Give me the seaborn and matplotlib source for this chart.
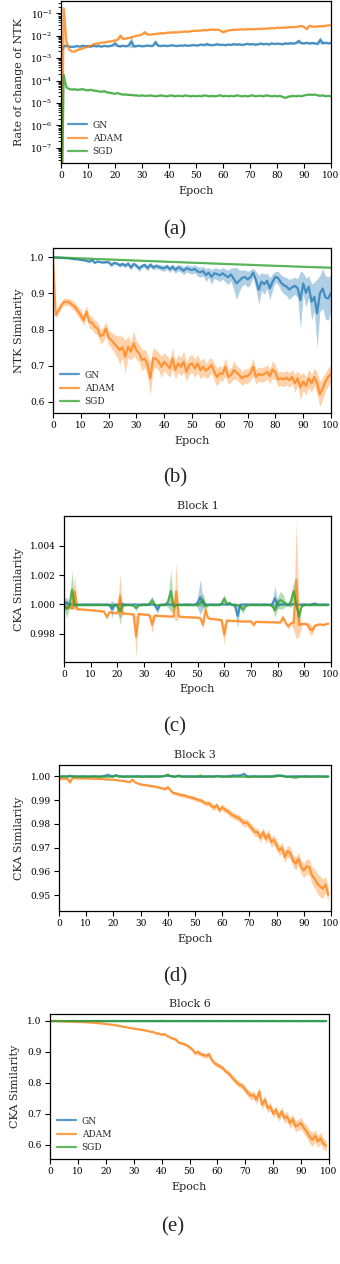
import numpy as np
import pandas as pd
import seaborn as sns
import matplotlib
matplotlib.use("Agg")
import matplotlib.pyplot as plt
from matplotlib.lines import Line2D
from matplotlib.ticker import LogLocator, NullFormatter, FixedLocator, FormatStrFormatter

# ---------------- data ----------------
OPTIMIZERS = ["GN", "ADAM", "SGD"]
COLORS = {"GN": "#1f77b4", "ADAM": "#ff7f0e", "SGD": "#2ca02c"}
EPOCHS_AB = list(range(101))
EPOCHS_CDE = list(range(100))
XTICKS = [0, 10, 20, 30, 40, 50, 60, 70, 80, 90, 100]

# (a) rate of change of NTK (log scale); spreads are relative
A_GN = [2.0e-3, 3.4e-3, 3.6e-3, 3.3e-3, 3.2e-3, 3.3e-3, 3.5e-3, 3.3e-3, 3.6e-3, 3.4e-3,
        3.5e-3, 3.3e-3, 3.6e-3, 3.4e-3, 3.5e-3, 3.3e-3, 3.6e-3, 3.4e-3, 3.5e-3, 3.7e-3,
        4.6e-3, 3.5e-3, 3.4e-3, 3.6e-3, 3.4e-3, 3.7e-3, 5.5e-3, 3.4e-3, 3.5e-3, 3.6e-3,
        3.4e-3, 3.5e-3, 3.7e-3, 3.5e-3, 3.6e-3, 5.2e-3, 3.6e-3, 3.5e-3, 3.7e-3, 3.5e-3,
        3.6e-3, 3.8e-3, 3.6e-3, 3.5e-3, 3.7e-3, 3.6e-3, 3.8e-3, 3.6e-3, 3.7e-3, 3.9e-3,
        3.7e-3, 3.8e-3, 4.1e-3, 3.8e-3, 4.3e-3, 3.9e-3, 3.8e-3, 4.0e-3, 4.2e-3, 3.9e-3,
        4.0e-3, 3.8e-3, 4.1e-3, 3.9e-3, 4.3e-3, 4.0e-3, 4.2e-3, 3.9e-3, 4.1e-3, 4.4e-3,
        4.1e-3, 4.3e-3, 4.0e-3, 4.2e-3, 4.5e-3, 4.2e-3, 4.4e-3, 4.1e-3, 4.6e-3, 4.3e-3,
        4.5e-3, 4.4e-3, 4.2e-3, 4.6e-3, 4.4e-3, 4.7e-3, 4.5e-3, 4.8e-3, 5.8e-3, 4.7e-3,
        4.6e-3, 4.9e-3, 4.5e-3, 4.8e-3, 4.6e-3, 4.4e-3, 6.5e-3, 4.7e-3, 4.9e-3, 4.6e-3, 4.8e-3]
A_ADAM = [1e-12, 1.7e-1, 5.6e-3, 2.4e-3, 2.0e-3, 2.0e-3, 2.3e-3, 2.5e-3, 2.8e-3, 3.0e-3,
          3.3e-3, 3.6e-3, 4.2e-3, 4.4e-3, 4.6e-3, 5.0e-3, 5.1e-3, 5.3e-3, 5.6e-3, 5.8e-3,
          6.2e-3, 6.8e-3, 1.0e-2, 7.2e-3, 7.6e-3, 7.9e-3, 8.6e-3, 9.2e-3, 1.0e-2, 1.05e-2,
          1.15e-2, 1.45e-2, 1.15e-2, 1.12e-2, 1.18e-2, 1.2e-2, 1.25e-2, 1.3e-2, 1.28e-2, 1.35e-2,
          1.4e-2, 1.38e-2, 1.45e-2, 1.42e-2, 1.5e-2, 1.5e-2, 1.55e-2, 1.52e-2, 1.6e-2, 1.65e-2,
          1.7e-2, 1.68e-2, 1.75e-2, 1.8e-2, 1.78e-2, 1.85e-2, 1.9e-2, 1.85e-2, 1.9e-2, 1.7e-2,
          1.45e-2, 1.6e-2, 1.75e-2, 1.8e-2, 1.85e-2, 1.9e-2, 1.88e-2, 1.95e-2, 1.9e-2, 1.98e-2,
          2.0e-2, 1.95e-2, 2.0e-2, 2.05e-2, 2.0e-2, 2.1e-2, 2.05e-2, 2.15e-2, 2.2e-2, 2.15e-2,
          2.3e-2, 2.25e-2, 2.35e-2, 2.3e-2, 2.4e-2, 2.45e-2, 2.4e-2, 2.5e-2, 2.6e-2, 2.75e-2,
          2.5e-2, 2.0e-2, 2.8e-2, 2.6e-2, 2.55e-2, 2.6e-2, 2.7e-2, 2.65e-2, 2.8e-2, 2.9e-2, 3.0e-2]
A_SGD = [1e-12, 1.8e-4, 5.0e-5, 4.2e-5, 4.0e-5, 4.1e-5, 3.9e-5, 4.0e-5, 4.2e-5, 3.8e-5,
         3.7e-5, 3.9e-5, 3.6e-5, 3.5e-5, 3.3e-5, 3.2e-5, 3.4e-5, 3.0e-5, 2.9e-5, 2.7e-5,
         2.6e-5, 2.8e-5, 2.5e-5, 2.4e-5, 2.4e-5, 2.3e-5, 2.3e-5, 2.2e-5, 2.2e-5, 2.1e-5,
         2.2e-5, 2.1e-5, 2.1e-5, 2.2e-5, 2.1e-5, 2.0e-5, 2.1e-5, 2.2e-5, 2.1e-5, 2.0e-5,
         2.1e-5, 2.2e-5, 2.0e-5, 2.1e-5, 2.1e-5, 2.0e-5, 2.2e-5, 2.1e-5, 2.0e-5, 2.1e-5,
         2.0e-5, 2.1e-5, 2.0e-5, 2.2e-5, 2.1e-5, 2.0e-5, 2.1e-5, 2.0e-5, 2.1e-5, 2.2e-5,
         2.0e-5, 2.1e-5, 2.0e-5, 2.1e-5, 2.0e-5, 2.2e-5, 2.1e-5, 2.0e-5, 2.1e-5, 2.0e-5,
         2.1e-5, 2.2e-5, 2.0e-5, 2.1e-5, 2.1e-5, 2.0e-5, 2.2e-5, 2.1e-5, 2.0e-5, 2.1e-5,
         2.0e-5, 2.1e-5, 1.9e-5, 1.7e-5, 1.9e-5, 2.0e-5, 2.1e-5, 2.0e-5, 2.1e-5, 2.0e-5,
         2.2e-5, 2.3e-5, 2.4e-5, 2.3e-5, 2.4e-5, 2.2e-5, 2.1e-5, 2.2e-5, 2.0e-5, 2.1e-5, 2.0e-5]
A_GN_SPREAD = [0.10, 0.30, 0.10, 0.10, 0.10, 0.10, 0.10, 0.10, 0.10, 0.10,
               0.10, 0.10, 0.10, 0.10, 0.10, 0.10, 0.10, 0.10, 0.10, 0.12,
               0.30, 0.12, 0.10, 0.10, 0.10, 0.15, 0.90, 0.15, 0.10, 0.10,
               0.10, 0.10, 0.10, 0.10, 0.12, 0.35, 0.12, 0.10, 0.10, 0.10,
               0.10, 0.10, 0.10, 0.10, 0.10, 0.10, 0.10, 0.10, 0.10, 0.10,
               0.10, 0.10, 0.12, 0.10, 0.20, 0.10, 0.10, 0.10, 0.12, 0.10,
               0.10, 0.10, 0.10, 0.10, 0.12, 0.10, 0.10, 0.10, 0.10, 0.12,
               0.10, 0.10, 0.10, 0.10, 0.12, 0.10, 0.10, 0.10, 0.12, 0.10,
               0.10, 0.10, 0.10, 0.12, 0.10, 0.12, 0.10, 0.12, 0.30, 0.12,
               0.10, 0.12, 0.10, 0.12, 0.10, 0.15, 0.50, 0.15, 0.12, 0.10, 0.10]
A_ADAM_SPREAD = [0.08, 0.10, 0.10, 0.08, 0.08, 0.08, 0.08, 0.08, 0.08, 0.08,
                 0.08, 0.08, 0.08, 0.08, 0.08, 0.08, 0.08, 0.08, 0.08, 0.08,
                 0.08, 0.10, 0.25, 0.10, 0.08, 0.08, 0.08, 0.08, 0.08, 0.08,
                 0.08, 0.20, 0.08, 0.08, 0.08, 0.08, 0.08, 0.08, 0.08, 0.08,
                 0.08, 0.08, 0.08, 0.08, 0.08, 0.08, 0.08, 0.08, 0.08, 0.08,
                 0.08, 0.08, 0.08, 0.08, 0.08, 0.08, 0.08, 0.08, 0.08, 0.10,
                 0.12, 0.10, 0.08, 0.08, 0.08, 0.08, 0.08, 0.08, 0.08, 0.08,
                 0.08, 0.08, 0.08, 0.08, 0.08, 0.08, 0.08, 0.08, 0.08, 0.08,
                 0.08, 0.08, 0.08, 0.08, 0.08, 0.08, 0.08, 0.08, 0.08, 0.10,
                 0.10, 0.12, 0.10, 0.08, 0.08, 0.08, 0.08, 0.08, 0.08, 0.08, 0.08]
A_SGD_SPREAD = [0.08, 0.20, 0.10, 0.08, 0.08, 0.08, 0.08, 0.08, 0.08, 0.08,
                0.08, 0.08, 0.08, 0.08, 0.08, 0.08, 0.08, 0.08, 0.08, 0.08,
                0.08, 0.08, 0.08, 0.08, 0.08, 0.08, 0.08, 0.08, 0.08, 0.08,
                0.08, 0.08, 0.08, 0.08, 0.08, 0.08, 0.08, 0.08, 0.08, 0.08,
                0.08, 0.08, 0.08, 0.08, 0.08, 0.08, 0.08, 0.08, 0.08, 0.08,
                0.08, 0.08, 0.08, 0.08, 0.08, 0.08, 0.08, 0.08, 0.08, 0.08,
                0.08, 0.08, 0.08, 0.08, 0.08, 0.08, 0.08, 0.08, 0.08, 0.08,
                0.08, 0.08, 0.08, 0.08, 0.08, 0.08, 0.08, 0.08, 0.08, 0.08,
                0.08, 0.08, 0.08, 0.10, 0.08, 0.08, 0.08, 0.08, 0.08, 0.08,
                0.08, 0.08, 0.08, 0.08, 0.08, 0.08, 0.08, 0.08, 0.08, 0.08, 0.08]
A_YTICKS = [1e-7, 1e-6, 1e-5, 1e-4, 1e-3, 1e-2, 1e-1]

# (b) NTK similarity
B_GN = [1.000, 1.000, 0.999, 0.999, 0.998, 0.998, 0.997, 0.996, 0.995, 0.995,
        0.993, 0.992, 0.991, 0.988, 0.993, 0.985, 0.989, 0.987, 0.986, 0.987,
        0.987, 0.979, 0.985, 0.983, 0.978, 0.982, 0.977, 0.983, 0.972, 0.982,
        0.977, 0.969, 0.976, 0.979, 0.970, 0.980, 0.972, 0.976, 0.974, 0.971,
        0.970, 0.975, 0.967, 0.974, 0.965, 0.972, 0.969, 0.963, 0.970, 0.967,
        0.965, 0.968, 0.961, 0.959, 0.962, 0.951, 0.958, 0.946, 0.956, 0.954,
        0.950, 0.956, 0.950, 0.945, 0.953, 0.941, 0.928, 0.935, 0.943, 0.946,
        0.939, 0.945, 0.958, 0.937, 0.910, 0.933, 0.926, 0.935, 0.914, 0.933,
        0.946, 0.943, 0.930, 0.923, 0.919, 0.911, 0.917, 0.921, 0.915, 0.882,
        0.928, 0.902, 0.919, 0.877, 0.891, 0.845, 0.900, 0.914, 0.889, 0.886, 0.902]
B_ADAM = [1.000, 0.840, 0.854, 0.868, 0.877, 0.877, 0.875, 0.868, 0.862, 0.850,
          0.840, 0.826, 0.850, 0.822, 0.819, 0.808, 0.803, 0.782, 0.785, 0.803,
          0.778, 0.771, 0.762, 0.753, 0.743, 0.751, 0.725, 0.753, 0.739, 0.762,
          0.743, 0.734, 0.716, 0.720, 0.702, 0.665, 0.720, 0.720, 0.711, 0.697,
          0.711, 0.702, 0.693, 0.720, 0.688, 0.706, 0.697, 0.711, 0.683, 0.702,
          0.706, 0.693, 0.706, 0.688, 0.697, 0.686, 0.693, 0.702, 0.683, 0.668,
          0.679, 0.677, 0.697, 0.669, 0.674, 0.688, 0.681, 0.674, 0.665, 0.671,
          0.671, 0.679, 0.697, 0.669, 0.677, 0.674, 0.677, 0.683, 0.671, 0.690,
          0.681, 0.662, 0.665, 0.662, 0.667, 0.660, 0.669, 0.651, 0.665, 0.640,
          0.656, 0.644, 0.665, 0.651, 0.669, 0.651, 0.621, 0.637, 0.656, 0.669, 0.677]
B_SGD = [1.0000, 0.9998, 0.9996, 0.9993, 0.9991, 0.9988, 0.9985, 0.9982, 0.9979, 0.9976,
         0.9973, 0.9970, 0.9967, 0.9964, 0.9961, 0.9958, 0.9955, 0.9952, 0.9949, 0.9946,
         0.9943, 0.9940, 0.9937, 0.9934, 0.9931, 0.9928, 0.9925, 0.9922, 0.9919, 0.9916,
         0.9913, 0.9910, 0.9907, 0.9904, 0.9901, 0.9898, 0.9895, 0.9892, 0.9890, 0.9887,
         0.9884, 0.9881, 0.9878, 0.9875, 0.9872, 0.9869, 0.9866, 0.9863, 0.9860, 0.9857,
         0.9854, 0.9851, 0.9848, 0.9845, 0.9842, 0.9839, 0.9836, 0.9833, 0.9830, 0.9828,
         0.9825, 0.9822, 0.9819, 0.9816, 0.9813, 0.9810, 0.9807, 0.9804, 0.9801, 0.9799,
         0.9796, 0.9793, 0.9790, 0.9787, 0.9784, 0.9781, 0.9779, 0.9776, 0.9773, 0.9770,
         0.9768, 0.9765, 0.9762, 0.9759, 0.9757, 0.9754, 0.9751, 0.9748, 0.9746, 0.9743,
         0.9740, 0.9738, 0.9735, 0.9733, 0.9730, 0.9727, 0.9725, 0.9722, 0.9720, 0.9717, 0.9715]
B_GN_SPREAD = [0.001, 0.001, 0.001, 0.001, 0.001, 0.001, 0.001, 0.002, 0.002, 0.002,
               0.002, 0.002, 0.003, 0.003, 0.003, 0.003, 0.003, 0.003, 0.003, 0.003,
               0.003, 0.006, 0.004, 0.004, 0.006, 0.005, 0.006, 0.005, 0.007, 0.005,
               0.006, 0.008, 0.006, 0.006, 0.008, 0.006, 0.007, 0.007, 0.007, 0.008,
               0.008, 0.007, 0.009, 0.008, 0.010, 0.009, 0.010, 0.011, 0.010, 0.011,
               0.011, 0.011, 0.013, 0.014, 0.013, 0.018, 0.014, 0.020, 0.015, 0.016,
               0.017, 0.016, 0.018, 0.020, 0.018, 0.030, 0.045, 0.030, 0.022, 0.020,
               0.022, 0.020, 0.012, 0.025, 0.040, 0.025, 0.028, 0.022, 0.030, 0.022,
               0.015, 0.018, 0.022, 0.024, 0.025, 0.028, 0.025, 0.024, 0.026, 0.080,
               0.030, 0.040, 0.030, 0.050, 0.040, 0.095, 0.050, 0.055, 0.060, 0.060, 0.050]
B_ADAM_SPREAD = [0.000, 0.008, 0.008, 0.010, 0.010, 0.010, 0.010, 0.012, 0.012, 0.014,
                 0.015, 0.015, 0.015, 0.018, 0.018, 0.018, 0.018, 0.020, 0.020, 0.020,
                 0.020, 0.022, 0.025, 0.030, 0.040, 0.030, 0.045, 0.030, 0.025, 0.035,
                 0.025, 0.025, 0.030, 0.025, 0.030, 0.045, 0.030, 0.025, 0.025, 0.030,
                 0.025, 0.025, 0.025, 0.030, 0.025, 0.025, 0.025, 0.030, 0.025, 0.025,
                 0.025, 0.025, 0.025, 0.025, 0.025, 0.020, 0.025, 0.020, 0.025, 0.025,
                 0.020, 0.020, 0.025, 0.020, 0.020, 0.025, 0.020, 0.020, 0.020, 0.020,
                 0.020, 0.020, 0.025, 0.020, 0.020, 0.020, 0.020, 0.020, 0.020, 0.025,
                 0.020, 0.020, 0.020, 0.020, 0.020, 0.020, 0.020, 0.025, 0.020, 0.035,
                 0.025, 0.025, 0.025, 0.025, 0.025, 0.030, 0.035, 0.030, 0.025, 0.025, 0.025]
B_SGD_SPREAD = [0.000, 0.001, 0.001, 0.001, 0.001, 0.001, 0.001, 0.001, 0.001, 0.001,
                0.001, 0.001, 0.001, 0.001, 0.001, 0.001, 0.001, 0.001, 0.001, 0.001,
                0.001, 0.001, 0.001, 0.001, 0.001, 0.001, 0.001, 0.001, 0.001, 0.001,
                0.001, 0.001, 0.001, 0.001, 0.001, 0.001, 0.001, 0.001, 0.001, 0.001,
                0.001, 0.001, 0.001, 0.001, 0.001, 0.001, 0.001, 0.001, 0.001, 0.001,
                0.001, 0.001, 0.001, 0.001, 0.001, 0.001, 0.001, 0.001, 0.001, 0.001,
                0.001, 0.001, 0.001, 0.001, 0.001, 0.001, 0.001, 0.001, 0.001, 0.001,
                0.001, 0.001, 0.001, 0.001, 0.001, 0.001, 0.001, 0.001, 0.001, 0.001,
                0.001, 0.001, 0.001, 0.001, 0.001, 0.001, 0.001, 0.001, 0.001, 0.001,
                0.001, 0.001, 0.001, 0.001, 0.001, 0.001, 0.001, 0.001, 0.001, 0.001, 0.001]
B_YTICKS = [0.6, 0.7, 0.8, 0.9, 1.0]

# (c) CKA similarity, block 1
C_GN = [1.00005, 1.00012, 0.99998, 1.00002, 0.99997, 1.00001, 1.00000, 0.99999, 1.00001, 1.00000,
        1.00000, 0.99999, 1.00001, 1.00000, 1.00000, 0.99999, 1.00001, 0.99998, 0.99968, 0.99999,
        1.00000, 0.99999, 1.00001, 1.00000, 1.00000, 0.99999, 1.00001, 1.00000, 0.99999, 1.00000,
        1.00001, 1.00000, 0.99999, 1.00001, 0.99995, 0.99964, 0.99998, 1.00000, 1.00001, 1.00000,
        0.99999, 1.00000, 1.00001, 1.00000, 0.99999, 1.00000, 1.00001, 1.00000, 0.99999, 1.00000,
        1.00010, 1.00050, 1.00008, 1.00000, 0.99999, 1.00001, 1.00000, 0.99999, 1.00000, 1.00001,
        1.00000, 0.99999, 1.00001, 1.00000, 0.99995, 0.99923, 0.99996, 1.00000, 1.00001, 0.99999,
        1.00000, 1.00001, 1.00000, 0.99999, 1.00000, 1.00001, 1.00000, 0.99999, 1.00002, 1.00043,
        0.99998, 1.00000, 1.00001, 1.00000, 0.99999, 1.00000, 1.00001, 1.00000, 0.99999, 1.00000,
        1.00001, 1.00000, 0.99999, 1.00003, 1.00006, 1.00000, 0.99999, 1.00001, 1.00000, 1.00000]
C_ADAM = [0.99990, 0.99982, 0.99980, 0.99975, 1.00088, 0.99968, 0.99968, 0.99965, 0.99964, 0.99962,
          0.99962, 0.99960, 0.99958, 0.99956, 0.99954, 0.99952, 0.99914, 0.99948, 0.99944, 0.99942,
          0.99940, 1.00059, 0.99940, 0.99938, 0.99937, 0.99934, 0.99933, 0.99783, 0.99936, 0.99933,
          0.99932, 0.99930, 0.99928, 0.99862, 0.99925, 0.99923, 0.99922, 0.99921, 0.99920, 0.99919,
          0.99918, 0.99920, 1.00088, 0.99920, 0.99916, 0.99915, 0.99914, 0.99913, 0.99912, 0.99911,
          0.99910, 0.99908, 0.99862, 0.99964, 0.99905, 0.99903, 0.99901, 0.99899, 0.99896, 0.99893,
          0.99794, 0.99891, 0.99890, 0.99888, 0.99889, 0.99887, 0.99886, 0.99884, 0.99885, 0.99884,
          0.99885, 0.99862, 0.99883, 0.99882, 0.99880, 0.99881, 0.99880, 0.99879, 0.99880, 0.99879,
          0.99878, 0.99877, 0.99912, 0.99875, 0.99851, 0.99872, 0.99875, 1.00168, 0.99860, 0.99866,
          0.99868, 0.99866, 0.99835, 0.99823, 0.99855, 0.99862, 0.99865, 0.99860, 0.99866, 0.99869]
C_SGD = [1.00000, 0.99968, 0.99990, 1.00100, 0.99996, 0.99995, 0.99996, 0.99995, 0.99996, 0.99995,
         0.99996, 0.99995, 0.99996, 0.99995, 0.99996, 0.99995, 0.99996, 0.99995, 0.99996, 0.99995,
         0.99990, 0.99952, 0.99996, 0.99995, 0.99996, 0.99995, 0.99992, 0.99975, 0.99994, 0.99995,
         0.99996, 0.99995, 1.00005, 1.00030, 1.00000, 0.99995, 0.99996, 0.99995, 0.99996, 1.00020,
         1.00090, 0.99985, 0.99995, 0.99996, 0.99995, 0.99996, 0.99995, 0.99996, 0.99995, 0.99996,
         0.99995, 1.00010, 1.00030, 0.99990, 0.99995, 0.99996, 0.99995, 0.99996, 0.99995, 1.00005,
         1.00040, 1.00005, 1.00010, 0.99996, 0.99995, 0.99996, 0.99990, 0.99964, 0.99990, 0.99995,
         0.99996, 0.99995, 0.99996, 0.99995, 0.99996, 0.99995, 0.99996, 0.99995, 0.99990, 0.99960,
         1.00010, 1.00030, 1.00020, 1.00005, 0.99995, 1.00020, 1.00090, 1.00000, 0.99918, 0.99990,
         0.99995, 0.99996, 0.99995, 0.99996, 0.99995, 0.99996, 0.99995, 0.99996, 0.99995, 0.99996]
C_GN_SPREAD = [0.00030, 0.00040, 0.00010, 0.00003, 0.00003, 0.00003, 0.00003, 0.00003, 0.00003, 0.00003,
               0.00003, 0.00003, 0.00003, 0.00003, 0.00003, 0.00003, 0.00003, 0.00010, 0.00060, 0.00010,
               0.00003, 0.00003, 0.00003, 0.00003, 0.00003, 0.00003, 0.00003, 0.00003, 0.00003, 0.00003,
               0.00003, 0.00003, 0.00003, 0.00003, 0.00010, 0.00030, 0.00005, 0.00003, 0.00003, 0.00003,
               0.00003, 0.00003, 0.00003, 0.00003, 0.00003, 0.00003, 0.00003, 0.00003, 0.00003, 0.00003,
               0.00030, 0.00120, 0.00040, 0.00003, 0.00003, 0.00003, 0.00003, 0.00003, 0.00003, 0.00003,
               0.00003, 0.00003, 0.00003, 0.00003, 0.00020, 0.00080, 0.00020, 0.00003, 0.00003, 0.00003,
               0.00003, 0.00003, 0.00003, 0.00003, 0.00003, 0.00003, 0.00003, 0.00003, 0.00020, 0.00080,
               0.00020, 0.00003, 0.00003, 0.00003, 0.00003, 0.00003, 0.00003, 0.00003, 0.00003, 0.00003,
               0.00003, 0.00003, 0.00003, 0.00010, 0.00010, 0.00003, 0.00003, 0.00003, 0.00003, 0.00003]
C_ADAM_SPREAD = [0.00010, 0.00006, 0.00006, 0.00010, 0.00120, 0.00010, 0.00006, 0.00006, 0.00006, 0.00006,
                 0.00006, 0.00006, 0.00006, 0.00006, 0.00006, 0.00006, 0.00020, 0.00006, 0.00006, 0.00006,
                 0.00006, 0.00150, 0.00010, 0.00006, 0.00006, 0.00006, 0.00010, 0.00140, 0.00010, 0.00006,
                 0.00006, 0.00006, 0.00010, 0.00060, 0.00010, 0.00006, 0.00006, 0.00006, 0.00006, 0.00006,
                 0.00006, 0.00010, 0.00200, 0.00010, 0.00006, 0.00006, 0.00006, 0.00006, 0.00006, 0.00006,
                 0.00006, 0.00006, 0.00030, 0.00030, 0.00006, 0.00006, 0.00006, 0.00006, 0.00006, 0.00010,
                 0.00070, 0.00010, 0.00006, 0.00006, 0.00006, 0.00006, 0.00006, 0.00006, 0.00006, 0.00006,
                 0.00006, 0.00020, 0.00006, 0.00006, 0.00006, 0.00006, 0.00006, 0.00006, 0.00006, 0.00006,
                 0.00006, 0.00006, 0.00020, 0.00006, 0.00020, 0.00006, 0.00050, 0.00400, 0.00080, 0.00010,
                 0.00006, 0.00010, 0.00040, 0.00030, 0.00010, 0.00006, 0.00006, 0.00006, 0.00006, 0.00006]
C_SGD_SPREAD = [0.00020, 0.00060, 0.00020, 0.00130, 0.00020, 0.00003, 0.00003, 0.00003, 0.00003, 0.00003,
                0.00003, 0.00003, 0.00003, 0.00003, 0.00003, 0.00003, 0.00003, 0.00003, 0.00003, 0.00003,
                0.00020, 0.00090, 0.00020, 0.00003, 0.00003, 0.00003, 0.00005, 0.00020, 0.00005, 0.00003,
                0.00003, 0.00003, 0.00010, 0.00030, 0.00005, 0.00003, 0.00003, 0.00003, 0.00003, 0.00040,
                0.00140, 0.00030, 0.00003, 0.00003, 0.00003, 0.00003, 0.00003, 0.00003, 0.00003, 0.00003,
                0.00003, 0.00020, 0.00050, 0.00020, 0.00003, 0.00003, 0.00003, 0.00003, 0.00003, 0.00010,
                0.00030, 0.00010, 0.00010, 0.00003, 0.00003, 0.00003, 0.00010, 0.00030, 0.00010, 0.00003,
                0.00003, 0.00003, 0.00003, 0.00003, 0.00003, 0.00003, 0.00003, 0.00003, 0.00010, 0.00050,
                0.00040, 0.00060, 0.00050, 0.00020, 0.00010, 0.00040, 0.00080, 0.00040, 0.00050, 0.00010,
                0.00003, 0.00003, 0.00003, 0.00003, 0.00003, 0.00003, 0.00003, 0.00003, 0.00003, 0.00003]
C_YTICKS = [0.998, 1.000, 1.002, 1.004]

# (d) CKA similarity, block 3
D_GN = [1.0000, 1.0000, 1.0001, 1.0000, 1.0000, 1.0001, 1.0000, 1.0000, 1.0000, 1.0001,
        1.0000, 1.0000, 1.0000, 1.0001, 1.0000, 1.0000, 1.0001, 1.0003, 1.0007, 1.0002,
        1.0001, 1.0005, 1.0001, 1.0000, 1.0000, 1.0001, 1.0000, 1.0000, 1.0000, 1.0001,
        1.0000, 1.0000, 1.0001, 1.0000, 1.0000, 1.0000, 1.0001, 1.0000, 1.0000, 1.0002,
        1.0003, 1.0001, 1.0000, 1.0000, 1.0001, 1.0000, 1.0000, 1.0001, 1.0000, 1.0000,
        1.0000, 1.0000, 0.9998, 1.0000, 1.0000, 1.0001, 1.0000, 1.0000, 1.0000, 1.0001,
        1.0000, 1.0000, 1.0001, 1.0002, 1.0004, 1.0003, 1.0004, 1.0005, 1.0011, 1.0002,
        1.0000, 1.0000, 1.0001, 1.0000, 1.0000, 1.0000, 1.0001, 1.0000, 1.0000, 1.0002,
        1.0004, 1.0004, 1.0003, 1.0001, 0.9998, 1.0000, 1.0000, 1.0001, 1.0000, 1.0000,
        1.0000, 1.0001, 1.0000, 1.0000, 1.0000, 1.0001, 1.0000, 1.0000, 1.0000, 1.0000]
D_ADAM = [0.99902, 0.99902, 0.99902, 0.99902, 0.99761, 0.99930, 0.99930, 0.99916, 0.99916, 0.99916,
          0.99916, 0.99916, 0.99902, 0.99902, 0.99902, 0.99888, 0.99888, 0.99874, 0.99874, 0.99860,
          0.99860, 0.99846, 0.99831, 0.99817, 0.99803, 0.99775, 0.99761, 0.99860, 0.99747, 0.99705,
          0.99663, 0.99649, 0.99635, 0.99607, 0.99593, 0.99579, 0.99551, 0.99522, 0.99494, 0.99466,
          0.99551, 0.99410, 0.99298, 0.99284, 0.99242, 0.99213, 0.99199, 0.99157, 0.99129, 0.99101,
          0.99059, 0.99017, 0.98989, 0.98933, 0.98848, 0.98876, 0.98764, 0.98680, 0.98792, 0.98567,
          0.98708, 0.98596, 0.98539, 0.98427, 0.98357, 0.98287, 0.98258, 0.98146, 0.98034, 0.98062,
          0.97935, 0.97795, 0.97654, 0.97654, 0.97416, 0.97654, 0.97374, 0.97556, 0.97233, 0.97331,
          0.97093, 0.96882, 0.96994, 0.96601, 0.96854, 0.96770, 0.96461, 0.96320, 0.96531, 0.96180,
          0.96039, 0.96208, 0.96180, 0.95829, 0.95688, 0.95478, 0.95365, 0.95267, 0.95449, 0.95014]
D_SGD = [0.9999, 0.9999, 0.9999, 0.9999, 1.0003, 0.9999, 0.9999, 0.9999, 0.9999, 0.9999,
         0.9998, 0.9999, 0.9999, 0.9999, 0.9999, 0.9998, 0.9999, 0.9999, 0.9999, 0.9999,
         0.9999, 1.0004, 0.9999, 0.9999, 0.9998, 0.9999, 0.9999, 0.9999, 0.9999, 0.9999,
         0.9999, 0.9998, 0.9999, 0.9999, 0.9999, 0.9999, 0.9999, 0.9999, 1.0001, 1.0002,
         1.0008, 1.0001, 0.9999, 0.9999, 1.0004, 0.9999, 0.9999, 0.9998, 0.9999, 0.9999,
         0.9999, 0.9999, 1.0004, 0.9999, 0.9999, 0.9999, 0.9999, 0.9999, 1.0002, 0.9999,
         0.9999, 0.9999, 0.9999, 0.9998, 0.9999, 0.9999, 0.9999, 0.9999, 0.9999, 0.9998,
         0.9997, 0.9999, 0.9999, 0.9999, 0.9999, 0.9998, 0.9999, 0.9999, 0.9999, 0.9999,
         1.0001, 1.0002, 1.0002, 0.9999, 0.9999, 0.9999, 0.9996, 0.9995, 0.9998, 0.9999,
         0.9999, 0.9999, 0.9998, 0.9999, 0.9999, 0.9999, 0.9999, 0.9999, 0.9998, 0.9999]
D_GN_SPREAD = [0.0001, 0.0001, 0.0001, 0.0001, 0.0001, 0.0001, 0.0001, 0.0001, 0.0001, 0.0001,
               0.0001, 0.0001, 0.0001, 0.0001, 0.0001, 0.0001, 0.0001, 0.0002, 0.0003, 0.0002,
               0.0001, 0.0003, 0.0001, 0.0001, 0.0001, 0.0001, 0.0001, 0.0001, 0.0001, 0.0001,
               0.0001, 0.0001, 0.0001, 0.0001, 0.0001, 0.0001, 0.0001, 0.0001, 0.0001, 0.0001,
               0.0002, 0.0001, 0.0001, 0.0001, 0.0001, 0.0001, 0.0001, 0.0001, 0.0001, 0.0001,
               0.0001, 0.0001, 0.0002, 0.0001, 0.0001, 0.0001, 0.0001, 0.0001, 0.0001, 0.0001,
               0.0001, 0.0001, 0.0001, 0.0002, 0.0002, 0.0002, 0.0002, 0.0003, 0.0004, 0.0002,
               0.0001, 0.0001, 0.0001, 0.0001, 0.0001, 0.0001, 0.0001, 0.0001, 0.0001, 0.0002,
               0.0002, 0.0002, 0.0002, 0.0001, 0.0002, 0.0001, 0.0001, 0.0001, 0.0001, 0.0001,
               0.0001, 0.0001, 0.0001, 0.0001, 0.0001, 0.0001, 0.0001, 0.0001, 0.0001, 0.0001]
D_ADAM_SPREAD = [0.0002, 0.0002, 0.0002, 0.0003, 0.0010, 0.0002, 0.0002, 0.0002, 0.0002, 0.0002,
                 0.0002, 0.0002, 0.0002, 0.0002, 0.0002, 0.0002, 0.0002, 0.0002, 0.0002, 0.0002,
                 0.0002, 0.0002, 0.0003, 0.0003, 0.0003, 0.0003, 0.0003, 0.0003, 0.0003, 0.0004,
                 0.0004, 0.0004, 0.0004, 0.0004, 0.0005, 0.0005, 0.0005, 0.0005, 0.0005, 0.0006,
                 0.0006, 0.0006, 0.0007, 0.0007, 0.0007, 0.0008, 0.0008, 0.0008, 0.0008, 0.0009,
                 0.0009, 0.0009, 0.0010, 0.0010, 0.0010, 0.0011, 0.0011, 0.0012, 0.0012, 0.0012,
                 0.0013, 0.0013, 0.0013, 0.0014, 0.0014, 0.0014, 0.0015, 0.0015, 0.0016, 0.0016,
                 0.0017, 0.0017, 0.0018, 0.0018, 0.0019, 0.0019, 0.0020, 0.0020, 0.0021, 0.0021,
                 0.0022, 0.0023, 0.0023, 0.0024, 0.0025, 0.0025, 0.0026, 0.0027, 0.0028, 0.0029,
                 0.0030, 0.0032, 0.0034, 0.0036, 0.0040, 0.0042, 0.0045, 0.0040, 0.0035, 0.0030]
D_SGD_SPREAD = [0.0001, 0.0001, 0.0001, 0.0001, 0.0002, 0.0001, 0.0001, 0.0001, 0.0001, 0.0001,
                0.0001, 0.0001, 0.0001, 0.0001, 0.0001, 0.0001, 0.0001, 0.0001, 0.0001, 0.0001,
                0.0001, 0.0002, 0.0001, 0.0001, 0.0001, 0.0001, 0.0001, 0.0001, 0.0001, 0.0001,
                0.0001, 0.0001, 0.0001, 0.0001, 0.0001, 0.0001, 0.0001, 0.0001, 0.0001, 0.0002,
                0.0003, 0.0002, 0.0001, 0.0001, 0.0002, 0.0001, 0.0001, 0.0001, 0.0001, 0.0001,
                0.0001, 0.0001, 0.0002, 0.0001, 0.0001, 0.0001, 0.0001, 0.0001, 0.0001, 0.0001,
                0.0001, 0.0001, 0.0001, 0.0001, 0.0001, 0.0001, 0.0001, 0.0001, 0.0001, 0.0001,
                0.0002, 0.0001, 0.0001, 0.0001, 0.0001, 0.0001, 0.0001, 0.0001, 0.0001, 0.0001,
                0.0002, 0.0002, 0.0002, 0.0001, 0.0001, 0.0001, 0.0002, 0.0003, 0.0002, 0.0001,
                0.0001, 0.0001, 0.0001, 0.0001, 0.0001, 0.0001, 0.0001, 0.0001, 0.0001, 0.0001]
D_YTICKS = [0.95, 0.96, 0.97, 0.98, 0.99, 1.00]

# (e) CKA similarity, block 6
E_GN = [0.9998, 0.9998, 0.9999, 0.9998, 0.9998, 0.9997, 0.9998, 0.9998, 0.9999, 0.9998,
        0.9998, 0.9998, 0.9997, 0.9998, 0.9998, 0.9999, 0.9998, 0.9998, 0.9998, 0.9997,
        0.9998, 0.9998, 0.9999, 0.9998, 0.9998, 0.9998, 0.9997, 0.9998, 0.9998, 0.9999,
        0.9998, 0.9998, 0.9998, 0.9997, 0.9998, 0.9998, 0.9999, 0.9998, 0.9998, 0.9998,
        1.0002, 0.9998, 0.9998, 0.9999, 0.9998, 0.9998, 0.9998, 0.9997, 0.9998, 0.9998,
        0.9999, 0.9998, 0.9998, 0.9998, 0.9997, 0.9998, 0.9998, 0.9999, 0.9998, 0.9998,
        0.9998, 0.9997, 0.9998, 0.9998, 0.9999, 0.9998, 0.9998, 0.9998, 0.9997, 0.9998,
        0.9998, 0.9999, 0.9998, 0.9998, 0.9998, 0.9997, 0.9998, 0.9998, 0.9999, 0.9998,
        1.0001, 0.9998, 0.9998, 0.9997, 0.9998, 0.9998, 0.9999, 0.9998, 0.9998, 0.9998,
        0.9997, 0.9998, 0.9998, 0.9999, 0.9998, 0.9998, 0.9998, 0.9997, 0.9998, 0.9998]
E_ADAM = [1.0000, 1.0000, 1.0000, 0.9995, 0.9989, 0.9989, 0.9984, 0.9978, 0.9978, 0.9973,
          0.9968, 0.9968, 0.9962, 0.9957, 0.9952, 0.9946, 0.9941, 0.9930, 0.9925, 0.9914,
          0.9903, 0.9892, 0.9882, 0.9871, 0.9855, 0.9839, 0.9817, 0.9806, 0.9785, 0.9769,
          0.9753, 0.9742, 0.9731, 0.9710, 0.9699, 0.9677, 0.9656, 0.9645, 0.9602, 0.9591,
          0.9559, 0.9581, 0.9516, 0.9473, 0.9430, 0.9409, 0.9312, 0.9280, 0.9258, 0.9215,
          0.9151, 0.9086, 0.8957, 0.9000, 0.8925, 0.8903, 0.8871, 0.8925, 0.8742, 0.8634,
          0.8581, 0.8527, 0.8473, 0.8366, 0.8312, 0.8204, 0.8097, 0.8011, 0.7935, 0.7903,
          0.7774, 0.7667, 0.7581, 0.7613, 0.7452, 0.7720, 0.7290, 0.7452, 0.7183, 0.7237,
          0.7000, 0.7129, 0.6892, 0.7075, 0.6860, 0.6914, 0.6699, 0.6828, 0.6591, 0.6645,
          0.6699, 0.6538, 0.6430, 0.6269, 0.6161, 0.6290, 0.6108, 0.6215, 0.6032, 0.5968]
E_SGD = [0.9997, 0.9997, 0.9998, 0.9997, 0.9997, 0.9997, 0.9996, 0.9997, 0.9997, 0.9998,
         0.9997, 0.9997, 0.9997, 0.9996, 0.9997, 0.9997, 0.9998, 0.9997, 0.9997, 0.9997,
         0.9996, 0.9997, 0.9997, 0.9998, 0.9997, 0.9997, 0.9997, 0.9996, 0.9997, 0.9997,
         0.9998, 0.9997, 0.9997, 0.9997, 0.9996, 0.9997, 0.9997, 0.9998, 0.9997, 0.9997,
         0.9997, 0.9996, 0.9997, 0.9997, 0.9998, 0.9997, 0.9997, 0.9997, 0.9996, 0.9997,
         0.9997, 0.9998, 0.9997, 0.9997, 0.9997, 0.9996, 0.9997, 0.9997, 0.9998, 0.9997,
         0.9997, 0.9997, 0.9996, 0.9997, 0.9997, 0.9998, 0.9997, 0.9997, 0.9997, 0.9996,
         0.9997, 0.9997, 0.9998, 0.9997, 0.9997, 0.9997, 0.9996, 0.9997, 0.9997, 0.9998,
         0.9997, 0.9997, 0.9997, 0.9996, 0.9997, 0.9997, 0.9998, 0.9997, 0.9997, 0.9997,
         0.9996, 0.9997, 0.9997, 0.9998, 0.9997, 0.9997, 0.9997, 0.9996, 0.9997, 0.9997]
E_GN_SPREAD = [0.0004, 0.0004, 0.0004, 0.0004, 0.0004, 0.0004, 0.0004, 0.0004, 0.0004, 0.0004,
               0.0004, 0.0004, 0.0004, 0.0004, 0.0004, 0.0004, 0.0004, 0.0004, 0.0004, 0.0004,
               0.0004, 0.0004, 0.0004, 0.0004, 0.0004, 0.0004, 0.0004, 0.0004, 0.0004, 0.0004,
               0.0004, 0.0004, 0.0004, 0.0004, 0.0004, 0.0004, 0.0004, 0.0004, 0.0004, 0.0004,
               0.0008, 0.0004, 0.0004, 0.0004, 0.0004, 0.0004, 0.0004, 0.0004, 0.0004, 0.0004,
               0.0004, 0.0004, 0.0004, 0.0004, 0.0004, 0.0004, 0.0004, 0.0004, 0.0004, 0.0004,
               0.0004, 0.0004, 0.0004, 0.0004, 0.0004, 0.0004, 0.0004, 0.0004, 0.0004, 0.0004,
               0.0004, 0.0004, 0.0004, 0.0004, 0.0004, 0.0004, 0.0004, 0.0004, 0.0004, 0.0004,
               0.0006, 0.0004, 0.0004, 0.0004, 0.0004, 0.0004, 0.0004, 0.0004, 0.0004, 0.0004,
               0.0004, 0.0004, 0.0004, 0.0004, 0.0004, 0.0004, 0.0004, 0.0004, 0.0004, 0.0004]
E_ADAM_SPREAD = [0.0005, 0.0005, 0.0005, 0.0005, 0.0005, 0.0005, 0.0005, 0.0006, 0.0006, 0.0006,
                 0.0007, 0.0007, 0.0007, 0.0008, 0.0008, 0.0008, 0.0009, 0.0009, 0.0010, 0.0010,
                 0.0011, 0.0011, 0.0012, 0.0012, 0.0013, 0.0013, 0.0014, 0.0015, 0.0016, 0.0017,
                 0.0018, 0.0019, 0.0020, 0.0021, 0.0022, 0.0023, 0.0024, 0.0025, 0.0026, 0.0028,
                 0.0030, 0.0032, 0.0034, 0.0036, 0.0038, 0.0040, 0.0042, 0.0045, 0.0048, 0.0050,
                 0.0055, 0.0060, 0.0065, 0.0080, 0.0070, 0.0075, 0.0080, 0.0090, 0.0085, 0.0080,
                 0.0075, 0.0080, 0.0080, 0.0085, 0.0090, 0.0090, 0.0095, 0.0100, 0.0100, 0.0110,
                 0.0110, 0.0120, 0.0130, 0.0130, 0.0140, 0.0150, 0.0140, 0.0150, 0.0140, 0.0130,
                 0.0130, 0.0140, 0.0140, 0.0150, 0.0160, 0.0160, 0.0170, 0.0170, 0.0180, 0.0180,
                 0.0190, 0.0190, 0.0200, 0.0210, 0.0220, 0.0200, 0.0200, 0.0190, 0.0180, 0.0170]
E_SGD_SPREAD = E_GN_SPREAD
E_YTICKS = [0.6, 0.7, 0.8, 0.9, 1.0]

CAPTIONS = ["(a)", "(b)", "(c)", "(d)", "(e)"]
TITLES = [None, None, "Block 1", "Block 3", "Block 6"]
YLABELS = ["Rate of change of NTK", "NTK Similarity", "CKA Similarity",
           "CKA Similarity", "CKA Similarity"]
FIG_CAPTION_WORDS = ["Figure", "4:", "NTK", "and", "CKA", "similarity"]

# ---------------- style ----------------
sns.set_theme(style="ticks")
plt.rcParams["font.family"] = ["DejaVu Serif"]
plt.rcParams["mathtext.fontset"] = "dejavuserif"
plt.rcParams["axes.linewidth"] = 0.9
plt.rcParams["axes.edgecolor"] = "black"
plt.rcParams["xtick.color"] = "black"
plt.rcParams["ytick.color"] = "black"
plt.rcParams["xtick.major.width"] = 0.8
plt.rcParams["ytick.major.width"] = 0.8
plt.rcParams["xtick.major.size"] = 3.5
plt.rcParams["ytick.major.size"] = 3.5
plt.rcParams["ytick.minor.size"] = 2.0
plt.rcParams["ytick.minor.width"] = 0.6

W, H = 340.0, 1264.0
fig = plt.figure(figsize=(W / 100, H / 100), dpi=100)

# axes boxes in pixels: left, top, right, bottom
BOXES = [(61, 1, 331, 163), (53, 248, 331, 413), (64, 516, 331, 662),
         (59, 765, 331, 911), (50, 1014, 329, 1159)]
YLIMS = [(2.1e-8, 0.355), (0.569, 1.026), (0.99608, 1.00603), (0.9433, 1.0048), (0.554, 1.0226)]
YLABEL_X = [24, 24, 24, 24, 19.5]
XLABEL_TOP = [186.5, 435.5, 684.5, 933.5, 1182.5]
CAPTION_Y = [230, 478, 727, 977, 1227]
CAPTION_X = [175, 175, 175, 175, 173]

PANELS = [
    (EPOCHS_AB, {"GN": A_GN, "ADAM": A_ADAM, "SGD": A_SGD},
     {"GN": A_GN_SPREAD, "ADAM": A_ADAM_SPREAD, "SGD": A_SGD_SPREAD}, A_YTICKS, True),
    (EPOCHS_AB, {"GN": B_GN, "ADAM": B_ADAM, "SGD": B_SGD},
     {"GN": B_GN_SPREAD, "ADAM": B_ADAM_SPREAD, "SGD": B_SGD_SPREAD}, B_YTICKS, False),
    (EPOCHS_CDE, {"GN": C_GN, "ADAM": C_ADAM, "SGD": C_SGD},
     {"GN": C_GN_SPREAD, "ADAM": C_ADAM_SPREAD, "SGD": C_SGD_SPREAD}, C_YTICKS, False),
    (EPOCHS_CDE, {"GN": D_GN, "ADAM": D_ADAM, "SGD": D_SGD},
     {"GN": D_GN_SPREAD, "ADAM": D_ADAM_SPREAD, "SGD": D_SGD_SPREAD}, D_YTICKS, False),
    (EPOCHS_CDE, {"GN": E_GN, "ADAM": E_ADAM, "SGD": E_SGD},
     {"GN": E_GN_SPREAD, "ADAM": E_ADAM_SPREAD, "SGD": E_SGD_SPREAD}, E_YTICKS, False),
]
YFORMATS = [None, "%.1f", "%.3f", "%.2f", "%.1f"]
LEGEND_PANELS = [0, 1, 4]

LINE_ALPHA = 0.75
BAND_ALPHA = 0.35

for i, (epochs, series, spreads, yticks, logscale) in enumerate(PANELS):
    l, t, r, b = BOXES[i]
    ax = fig.add_axes([l / W, 1 - b / H, (r - l) / W, (b - t) / H])
    if logscale:
        ax.set_yscale("log")
    frames = []
    for name in OPTIMIZERS:
        m = np.asarray(series[name], dtype=float)
        s = np.asarray(spreads[name], dtype=float)
        if logscale:
            lo, hi = m / (1 + s), m * (1 + s)
        else:
            lo, hi = m - s, m + s
        ax.fill_between(epochs, lo, hi, color=COLORS[name], alpha=BAND_ALPHA, lw=0)
        frames.append(pd.DataFrame({"Epoch": epochs, "value": m, "optimizer": name}))
    df = pd.concat(frames, ignore_index=True)
    sns.lineplot(data=df, x="Epoch", y="value", hue="optimizer", hue_order=OPTIMIZERS,
                 palette=COLORS, errorbar=None, lw=1.6, alpha=LINE_ALPHA,
                 legend=False, ax=ax, sort=False)

    ax.set_xlim(0, 100)
    ax.set_ylim(*YLIMS[i])
    ax.xaxis.set_major_locator(FixedLocator(XTICKS))
    ax.yaxis.set_major_locator(FixedLocator(yticks))
    if logscale:
        ax.yaxis.set_minor_locator(LogLocator(base=10, subs=np.arange(2, 10), numticks=30))
        ax.yaxis.set_minor_formatter(NullFormatter())
    else:
        ax.yaxis.set_major_formatter(FormatStrFormatter(YFORMATS[i]))
    ax.tick_params(axis="both", which="major", labelsize=6.5, pad=2.5, direction="out")
    for sp in ax.spines.values():
        sp.set_visible(True)
        sp.set_color("black")
        sp.set_linewidth(0.9)

    ax.set_xlabel("Epoch", fontsize=8)
    ax.set_ylabel(YLABELS[i], fontsize=8)
    ax.yaxis.set_label_coords((YLABEL_X[i] - l) / (r - l), 0.5)
    ax.xaxis.set_label_coords(0.5, -(XLABEL_TOP[i] - b) / (b - t))
    if TITLES[i]:
        ax.set_title(TITLES[i], fontsize=8, pad=5)

    if i in LEGEND_PANELS:
        handles = [Line2D([], [], color=COLORS[n], lw=1.6, alpha=LINE_ALPHA) for n in OPTIMIZERS]
        ax.legend(handles, OPTIMIZERS, loc="lower left", frameon=False, fontsize=6.5,
                  handlelength=2.1, handletextpad=0.6, labelspacing=0.45,
                  borderaxespad=0.5, borderpad=0.3)

    fig.text(CAPTION_X[i] / W, 1 - CAPTION_Y[i] / H, CAPTIONS[i], ha="center", va="center",
             fontsize=15, family=["Liberation Serif", "DejaVu Serif"])

# paper caption below the figure: only the tops of its letters fall inside the image
word_x = [0, 108, 132, 203, 243, 290]
for wx, word in zip(word_x, FIG_CAPTION_WORDS):
    fig.text(wx / W, 1 - 1277 / H, word, ha="left", va="baseline", fontsize=14,
             family=["Liberation Serif", "DejaVu Serif"])

fig.savefig("out.png", dpi=100)
